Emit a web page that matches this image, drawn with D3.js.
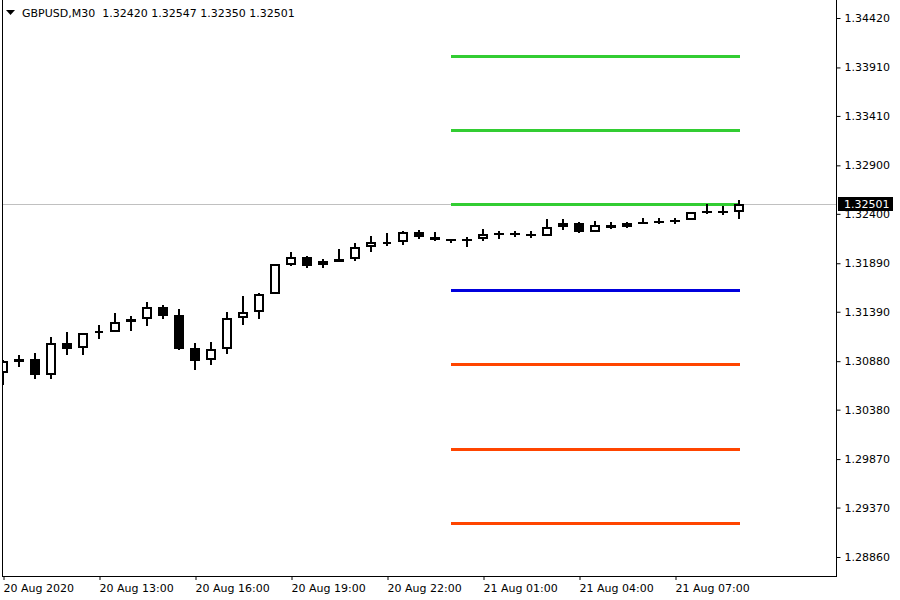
<!DOCTYPE html>
<html>
<head>
<meta charset="utf-8">
<script src="https://cdn.jsdelivr.net/npm/d3@7"></script>
<style>
  html, body { margin: 0; padding: 0; background: #fff; }
  svg { display: block; font-family: "DejaVu Sans", sans-serif; }
</style>
</head>
<body>
<svg id="chart" width="900" height="600"></svg>
<script>
// ---------------- data ----------------
const symbol = "GBPUSD,M30";
const times = [
  "2020.08.20 10:00","2020.08.20 10:30","2020.08.20 11:00","2020.08.20 11:30","2020.08.20 12:00","2020.08.20 12:30",
  "2020.08.20 13:00","2020.08.20 13:30","2020.08.20 14:00","2020.08.20 14:30","2020.08.20 15:00","2020.08.20 15:30",
  "2020.08.20 16:00","2020.08.20 16:30","2020.08.20 17:00","2020.08.20 17:30","2020.08.20 18:00","2020.08.20 18:30",
  "2020.08.20 19:00","2020.08.20 19:30","2020.08.20 20:00","2020.08.20 20:30","2020.08.20 21:00","2020.08.20 21:30",
  "2020.08.20 22:00","2020.08.20 22:30","2020.08.20 23:00","2020.08.20 23:30",
  "2020.08.21 00:00","2020.08.21 00:30","2020.08.21 01:00","2020.08.21 01:30","2020.08.21 02:00","2020.08.21 02:30",
  "2020.08.21 03:00","2020.08.21 03:30","2020.08.21 04:00","2020.08.21 04:30","2020.08.21 05:00","2020.08.21 05:30",
  "2020.08.21 06:00","2020.08.21 06:30","2020.08.21 07:00","2020.08.21 07:30","2020.08.21 08:00","2020.08.21 08:30",
  "2020.08.21 09:00"
];
const opens = [
  1.30758,1.30872,1.30903,1.30738,1.31068,1.31016,1.31171,1.31181,1.31284,1.31315,
  1.31439,1.31356,1.31016,1.30892,1.31006,1.31326,1.31387,1.31573,1.31872,1.31955,
  1.31872,1.31903,1.31934,1.32058,1.32109,1.32109,1.32213,1.32161,1.32140,1.32140,
  1.32140,1.32202,1.32202,1.32192,1.32171,1.32264,1.32305,1.32213,1.32285,1.32264,
  1.32316,1.32326,1.32333,1.32336,1.32429,1.32426,1.32420
];
const highs = [
  1.30890,1.30944,1.30964,1.31130,1.31181,1.31171,1.31253,1.31377,1.31346,1.31491,
  1.31460,1.31418,1.31068,1.31078,1.31387,1.31552,1.31583,1.31885,1.32006,1.31965,
  1.31934,1.32037,1.32099,1.32171,1.32202,1.32223,1.32233,1.32213,1.32142,1.32161,
  1.32244,1.32223,1.32223,1.32223,1.32347,1.32347,1.32316,1.32326,1.32316,1.32316,
  1.32357,1.32357,1.32360,1.32419,1.32501,1.32484,1.32547
];
const lows = [
  1.30634,1.30820,1.30696,1.30696,1.30944,1.30944,1.31109,1.31178,1.31191,1.31243,
  1.31315,1.30995,1.30789,1.30841,1.30954,1.31253,1.31315,1.31570,1.31862,1.31841,
  1.31841,1.31900,1.31913,1.32006,1.32068,1.32079,1.32140,1.32120,1.32099,1.32058,
  1.32120,1.32140,1.32161,1.32151,1.32168,1.32233,1.32202,1.32210,1.32244,1.32254,
  1.32295,1.32298,1.32298,1.32333,1.32401,1.32388,1.32350
];
const closes = [
  1.30882,1.30903,1.30738,1.31068,1.31006,1.31171,1.31191,1.31284,1.31315,1.31439,
  1.31346,1.31006,1.30882,1.31006,1.31326,1.31387,1.31573,1.31883,1.31955,1.31862,
  1.31913,1.31934,1.32058,1.32109,1.32110,1.32213,1.32161,1.32130,1.32120,1.32120,
  1.32192,1.32182,1.32182,1.32171,1.32264,1.32305,1.32213,1.32285,1.32254,1.32305,
  1.32298,1.32309,1.32316,1.32419,1.32412,1.32409,1.32501
];
const levelNames = ["R3","R2","R1","PP","S1","S2","S3"];
const levelValues = [1.34028,1.33265,1.32500,1.31614,1.30851,1.29974,1.29211];
const levelStart = "2020.08.21 00:00";
const priceTicks = [1.34420,1.33910,1.33410,1.32900,1.32400,1.31890,1.31390,1.30880,1.30380,1.29870,1.29370,1.28860];
const timeTicks = ["2020.08.20 10:00","2020.08.20 13:00","2020.08.20 16:00","2020.08.20 19:00","2020.08.20 22:00","2020.08.21 01:00","2020.08.21 04:00","2020.08.21 07:00"];
const timeTickLabels = ["20 Aug 2020","20 Aug 13:00","20 Aug 16:00","20 Aug 19:00","20 Aug 22:00","21 Aug 01:00","21 Aug 04:00","21 Aug 07:00"];

// ---------------- layout ----------------
const W = 900, H = 600;
const plotL = 3, plotR = 836, plotB = 576;
const svg = d3.select("#chart");

const x = d3.scalePoint().domain(times).range([3, 739]);
const y = d3.scaleLinear().domain([1.28860, 1.34420]).range([557, 18]);

svg.append("rect").attr("width", W).attr("height", H).attr("fill", "#fff");

svg.append("defs").append("clipPath").attr("id", "plotclip")
  .append("rect").attr("x", plotL).attr("y", 0).attr("width", plotR - plotL).attr("height", plotB);

const plot = svg.append("g").attr("clip-path", "url(#plotclip)");

const bars = times.map((t, i) => ({t, o: opens[i], h: highs[i], l: lows[i], c: closes[i]}));
const last = bars[bars.length - 1];

// current price line
plot.append("line")
  .attr("x1", plotL).attr("x2", plotR)
  .attr("y1", Math.round(y(last.c)) + 0.5).attr("y2", Math.round(y(last.c)) + 0.5)
  .attr("stroke", "#c0c0c0").attr("stroke-width", 1);

// pivot levels
const levelColor = n => n.startsWith("R") ? "#32cd32" : n.startsWith("S") ? "#ff4500" : "#0000dd";
plot.selectAll("line.level").data(levelNames).join("line")
  .attr("class", "level")
  .attr("x1", x(levelStart)).attr("x2", x(times[times.length - 1]) + 1)
  .attr("y1", (d, i) => Math.round(y(levelValues[i])) + 0.5)
  .attr("y2", (d, i) => Math.round(y(levelValues[i])) + 0.5)
  .attr("stroke", d => levelColor(d)).attr("stroke-width", 3);

// candles
const cg = plot.selectAll("g.bar").data(bars).join("g").attr("class", "bar");
cg.append("line")
  .attr("x1", d => x(d.t)).attr("x2", d => x(d.t))
  .attr("y1", d => Math.round(y(d.h))).attr("y2", d => Math.round(y(d.l)))
  .attr("stroke", "#000").attr("stroke-width", 2);
cg.each(function(d) {
  const g = d3.select(this);
  const cx = x(d.t);
  const top = Math.round(y(Math.max(d.o, d.c)));
  const bot = Math.round(y(Math.min(d.o, d.c)));
  if (d.c >= d.o) {
    const hgt = Math.max(0, bot - top - 2);
    g.append("path")
      .attr("d", `M${cx - 4},${top + 1}H${cx + 4}V${top + 1 + hgt}H${cx - 4}Z`)
      .attr("fill", "#fff").attr("stroke", "#000").attr("stroke-width", 2);
  } else {
    g.append("rect")
      .attr("x", cx - 5).attr("y", top)
      .attr("width", 10).attr("height", Math.max(2, bot - top))
      .attr("fill", "#000");
  }
});

// frame
svg.append("line").attr("x1", 2.5).attr("x2", 2.5).attr("y1", 0).attr("y2", plotB + 1).attr("stroke", "#000");
svg.append("line").attr("x1", 2).attr("x2", plotR + 1).attr("y1", plotB + 0.5).attr("y2", plotB + 0.5).attr("stroke", "#000");
svg.append("line").attr("x1", plotR + 0.5).attr("x2", plotR + 0.5).attr("y1", 0).attr("y2", plotB + 1).attr("stroke", "#000");

// price axis
const yAxis = d3.axisRight(y).tickValues(priceTicks).tickSize(4).tickPadding(4).tickFormat(d3.format(".5f"));
const yg = svg.append("g").attr("transform", `translate(${plotR + 0.5},0)`).call(yAxis);
yg.select(".domain").remove();
yg.selectAll(".tick line").attr("stroke", "#000");
yg.selectAll(".tick text").attr("fill", "#000").attr("font-size", 11).attr("font-family", "DejaVu Sans");

// time axis
const xAxis = d3.axisBottom(x).tickValues(timeTicks).tickSize(4).tickPadding(4)
  .tickFormat((d) => timeTickLabels[timeTicks.indexOf(d)]);
const xg = svg.append("g").attr("transform", `translate(0.5,${plotB})`).call(xAxis);
xg.select(".domain").remove();
xg.selectAll(".tick line").attr("stroke", "#000");
xg.selectAll(".tick text").attr("fill", "#000").attr("font-size", 11)
  .attr("font-family", "DejaVu Sans").attr("text-anchor", "start").attr("dx", -0.5);

// current price label (drawn over the axis, as in the original)
const cy = Math.round(y(last.c));
svg.append("rect").attr("x", plotR + 2).attr("y", cy - 7).attr("width", 55).attr("height", 14).attr("fill", "#000");
svg.append("text").attr("x", plotR + 8).attr("y", cy + 4)
  .attr("fill", "#fff").attr("font-size", 11).text(d3.format(".5f")(last.c));

// header
svg.append("path").attr("d", "M6,10L15,10L10.5,15Z").attr("fill", "#000");
svg.append("text").attr("x", 22).attr("y", 17).attr("font-size", 11).attr("fill", "#000")
  .style("white-space", "pre")
  .text(`${symbol}  ${d3.format(".5f")(last.o)} ${d3.format(".5f")(last.h)} ${d3.format(".5f")(last.l)} ${d3.format(".5f")(last.c)}`);
</script>
</body>
</html>
